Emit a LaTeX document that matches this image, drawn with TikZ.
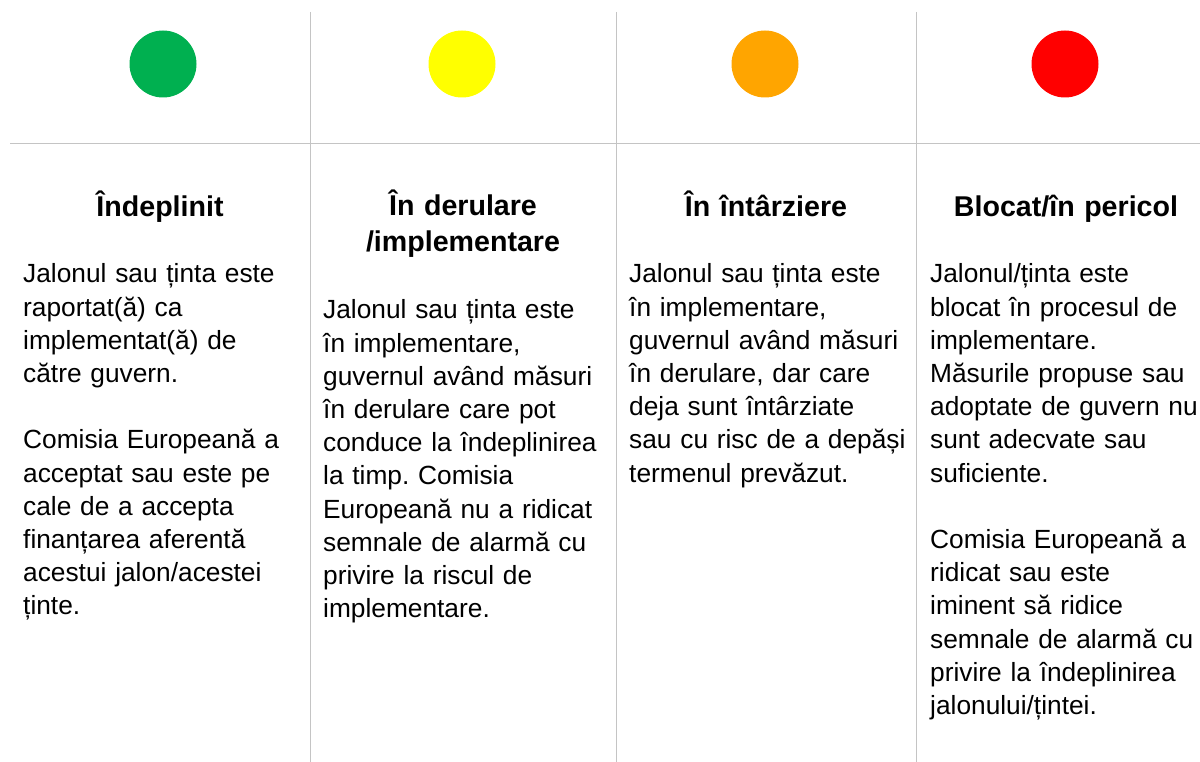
\documentclass[tikz,border=0pt]{standalone}
\usepackage{fontspec}
\setmainfont{Liberation Sans}
\frenchspacing
\definecolor{gridgray}{HTML}{C4C4C4}
\definecolor{stgreen}{HTML}{00B050}
\definecolor{styellow}{HTML}{FFFF00}
\definecolor{storange}{HTML}{FFA500}
\definecolor{stred}{HTML}{FF0000}
\tikzset{
  gridline/.style={draw=gridgray, line width=0.9pt},
  lamp/.style={circle, minimum size=67pt, inner sep=0pt},
  headtxt/.style={anchor=base, inner sep=0pt, text width=290pt, align=center,
    font=\bfseries\fontsize{28.6}{36}\selectfont},
  bodytxt/.style={anchor=base west, inner sep=0pt, text width=290pt, align=left,
    font=\fontsize{26.3}{33.2}\selectfont}
}
\begin{document}
\begin{tikzpicture}[x=1pt,y=-1pt]
\useasboundingbox (0,0) rectangle (1200,762);
% grid
\coordinate (v1t) at (310,12); \coordinate (v1b) at (310,762);
\coordinate (v2t) at (616,12); \coordinate (v2b) at (616,762);
\coordinate (v3t) at (916,12); \coordinate (v3b) at (916,762);
\coordinate (hl) at (10,143); \coordinate (hr) at (1200,143);
\draw[gridline] (v1t) -- (v1b);
\draw[gridline] (v2t) -- (v2b);
\draw[gridline] (v3t) -- (v3b);
\draw[gridline] (hl) -- (hr);
% lamps
\node[lamp, fill=stgreen] (g) at (163,64) {};
\node[lamp, fill=styellow] (y) at (462,64) {};
\node[lamp, fill=storange] (o) at (765,64) {};
\node[lamp, fill=stred] (r) at (1065,64) {};
% headings
\node[headtxt] (h1) at (160,217) {Îndeplinit};
\node[headtxt] (h2) at (463,216) {În derulare\\/implementare};
\node[headtxt] (h3) at (766,217) {În întârziere};
\node[headtxt] (h4) at (1066,217) {Blocat/în pericol};
% bodies
\node[bodytxt] (b1) at (23,283) {Jalonul sau ținta este\\raportat(ă) ca\\implementat(ă) de\\către guvern.\\[33.2pt]Comisia Europeană a\\acceptat sau este pe\\cale de a accepta\\finanțarea aferentă\\acestui jalon/acestei\\ținte.};
\node[bodytxt] (b2) at (323,319) {Jalonul sau ținta este\\în implementare,\\guvernul având măsuri\\în derulare care pot\\conduce la îndeplinirea\\la timp. Comisia\\Europeană nu a ridicat\\semnale de alarmă cu\\privire la riscul de\\implementare.};
\node[bodytxt] (b3) at (629,283) {Jalonul sau ținta este\\în implementare,\\guvernul având măsuri\\în derulare, dar care\\deja sunt întârziate\\sau cu risc de a depăși\\termenul prevăzut.};
\node[bodytxt] (b4) at (930,283) {Jalonul/ținta este\\blocat în procesul de\\implementare.\\Măsurile propuse sau\\adoptate de guvern nu\\sunt adecvate sau\\suficiente.\\[33.2pt]Comisia Europeană a\\ridicat sau este\\iminent să ridice\\semnale de alarmă cu\\privire la îndeplinirea\\jalonului/țintei.};
\end{tikzpicture}
\end{document}
